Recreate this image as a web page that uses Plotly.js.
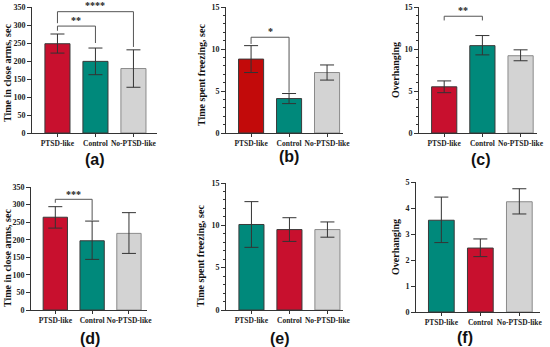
<!DOCTYPE html>
<html>
<head>
<meta charset="utf-8">
<script src="https://cdn.plot.ly/plotly-3.0.1.min.js"></script>
<style>html,body{margin:0;padding:0;background:#fff;}#chart{width:550px;height:347px;}</style>
</head>
<body>
<div id="chart"></div>
<script>
// ---- data ----
const categories = ['PTSD-like', 'Control', 'No-PTSD-like'];

const aMeans = [248, 199, 179];
const aUpper = [275, 236, 231];
const aLower = [222, 162, 127];

const bMeans = [8.8, 4.1, 7.2];
const bUpper = [10.4, 4.7, 8.1];
const bLower = [7.2, 3.5, 6.3];

const cMeans = [5.5, 10.4, 9.2];
const cUpper = [6.2, 11.6, 9.9];
const cLower = [4.8, 9.3, 8.6];

const dMeans = [264, 197, 218];
const dUpper = [294, 253, 277];
const dLower = [233, 144, 161];

const eMeans = [10.1, 9.5, 9.5];
const eUpper = [12.8, 10.9, 10.4];
const eLower = [7.4, 8.1, 8.6];

const fMeans = [3.53, 2.46, 4.24];
const fUpper = [4.42, 2.81, 4.74];
const fLower = [2.67, 2.13, 3.77];

const yTitles = ['Time in close arms, sec', 'Time spent freezing, sec', 'Overhanging',
                 'Time in close arms, sec', 'Time spent freezing, sec', 'Overhanging'];
const panelLabels = ['(a)', '(b)', '(c)', '(d)', '(e)', '(f)'];

// significance brackets
const bracketPanel = [0, 0, 1, 2, 3];
const bracketFrom  = [0, 0, 0, 0, 0];
const bracketTo    = [1, 2, 1, 1, 1];
const bracketY     = [297, 337, 11.4, 13.9, 315];
const bracketLeft  = [284, 305, 10.6, 13.4, 305];
const bracketRight = [250, 239, 4.8, 13.4, 255];
const bracketStarY = [312, 353, 12.1, 14.6, 329];
const bracketStars = ['**', '****', '*', '**', '***'];

// ---- styles ----
const RED = '#c8102e', RED_B = '#c20a0a', TEAL = '#00897b', GRAY = '#d3d3d3';
const panels = [
  {m: aMeans, u: aUpper, l: aLower, colors: [RED, TEAL, GRAY], yr: [0, 350], dt: 50, minor: false,
   xd: [32, 157], yd: [7, 133], xr: [-0.67, 2.62]},
  {m: bMeans, u: bUpper, l: bLower, colors: [RED_B, TEAL, GRAY], yr: [0, 15], dt: 5, minor: true,
   xd: [226, 343], yd: [7, 133], xr: [-0.66, 2.42]},
  {m: cMeans, u: cUpper, l: cLower, colors: [RED, TEAL, GRAY], yr: [0, 15], dt: 5, minor: true,
   xd: [419, 537], yd: [7, 133], xr: [-0.66, 2.43]},
  {m: dMeans, u: dUpper, l: dLower, colors: [RED, TEAL, GRAY], yr: [0, 350], dt: 50, minor: false,
   xd: [31, 147], yd: [187, 310], xr: [-0.66, 2.49]},
  {m: eMeans, u: eUpper, l: eLower, colors: [TEAL, RED, GRAY], yr: [0, 15], dt: 5, minor: true,
   xd: [226, 343], yd: [183, 310], xr: [-0.67, 2.41]},
  {m: fMeans, u: fUpper, l: fLower, colors: [TEAL, RED, GRAY], yr: [0, 5], dt: 1, minor: false,
   xd: [416, 540], yd: [182, 312], xr: [-0.65, 2.53]}
];
const titlePos = [[7, 73], [201, 75], [395, 70], [7, 258], [201, 256], [395, 247]];
const labelPos = [[95, 159], [289, 157], [481, 159], [90, 338], [280, 338], [465, 337]];

const W = 550, H = 347;
const serif = 'Liberation Serif, Times New Roman, serif';
const traces = [], layout = {
  width: W, height: H, margin: {l: 0, r: 0, t: 0, b: 0},
  paper_bgcolor: '#fff', plot_bgcolor: 'rgba(0,0,0,0)', showlegend: false,
  annotations: [], shapes: []
};

panels.forEach((p, i) => {
  const n = i === 0 ? '' : String(i + 1);
  const edge = p.colors.map(c => c === GRAY ? '#8a8a8a' : '#3a3a3a');
  traces.push({
    type: 'bar', x: categories, y: p.m, xaxis: 'x' + n, yaxis: 'y' + n, width: 0.66,
    marker: {color: p.colors, line: {color: edge, width: 1}},
    error_y: {type: 'data', symmetric: false,
      array: p.u.map((v, k) => v - p.m[k]), arrayminus: p.m.map((v, k) => v - p.l[k]),
      color: '#333', thickness: 1, width: 7},
    hoverinfo: 'skip'
  });
  layout['xaxis' + n] = {
    domain: [p.xd[0] / W, p.xd[1] / W], anchor: 'y' + n, type: 'category', range: p.xr,
    showline: true, linecolor: '#333', linewidth: 1, ticks: 'outside', ticklen: 3, tickcolor: '#333',
    showgrid: false, zeroline: false, fixedrange: true, tickangle: 0, automargin: false,
    tickfont: {family: serif, size: 7.5, color: '#222', weight: 'bold'}
  };
  const ya = {
    domain: [1 - p.yd[1] / H, 1 - p.yd[0] / H], anchor: 'x' + n, range: p.yr, dtick: p.dt,
    showline: true, linecolor: '#333', linewidth: 1, ticks: 'outside', ticklen: 4, tickcolor: '#333',
    showgrid: false, zeroline: false, fixedrange: true, automargin: false,
    tickfont: {family: serif, size: 8, color: '#222', weight: 'bold'}
  };
  if (p.minor) ya.minor = {dtick: 1, ticks: 'outside', ticklen: 2, tickcolor: '#333', showgrid: false};
  layout['yaxis' + n] = ya;

  layout.annotations.push({
    xref: 'paper', yref: 'paper', x: titlePos[i][0] / W, y: 1 - titlePos[i][1] / H,
    text: yTitles[i], textangle: -90, showarrow: false, xanchor: 'center', yanchor: 'middle',
    font: {family: serif, size: 10, color: '#111', weight: 'bold'}
  });
  layout.annotations.push({
    xref: 'paper', yref: 'paper', x: labelPos[i][0] / W, y: 1 - labelPos[i][1] / H,
    text: panelLabels[i], showarrow: false, xanchor: 'center', yanchor: 'middle',
    font: {family: 'Liberation Sans, Arial, sans-serif', size: 16, color: '#111', weight: 'bold'}
  });
});

bracketPanel.forEach((pi, k) => {
  const n = pi === 0 ? '' : String(pi + 1);
  const x0 = bracketFrom[k], x1 = bracketTo[k];
  const yMax = panels[pi].yr[1];
  layout.shapes.push({
    type: 'path', xref: 'x' + n, yref: 'y' + n,
    path: `M ${x0} ${bracketLeft[k]} L ${x0} ${bracketY[k]} L ${x1} ${bracketY[k]} L ${x1} ${bracketRight[k]}`,
    line: {color: '#555', width: 1}
  });
  layout.annotations.push({
    xref: 'x' + n, yref: 'y' + n + ' domain', x: (x0 + x1) / 2, y: bracketStarY[k] / yMax,
    text: bracketStars[k], showarrow: false, xanchor: 'center', yanchor: 'middle',
    font: {family: serif, size: 10, color: '#222', weight: 'bold'}
  });
});

Plotly.newPlot('chart', traces, layout, {staticPlot: true, displayModeBar: false});
</script>
</body>
</html>
